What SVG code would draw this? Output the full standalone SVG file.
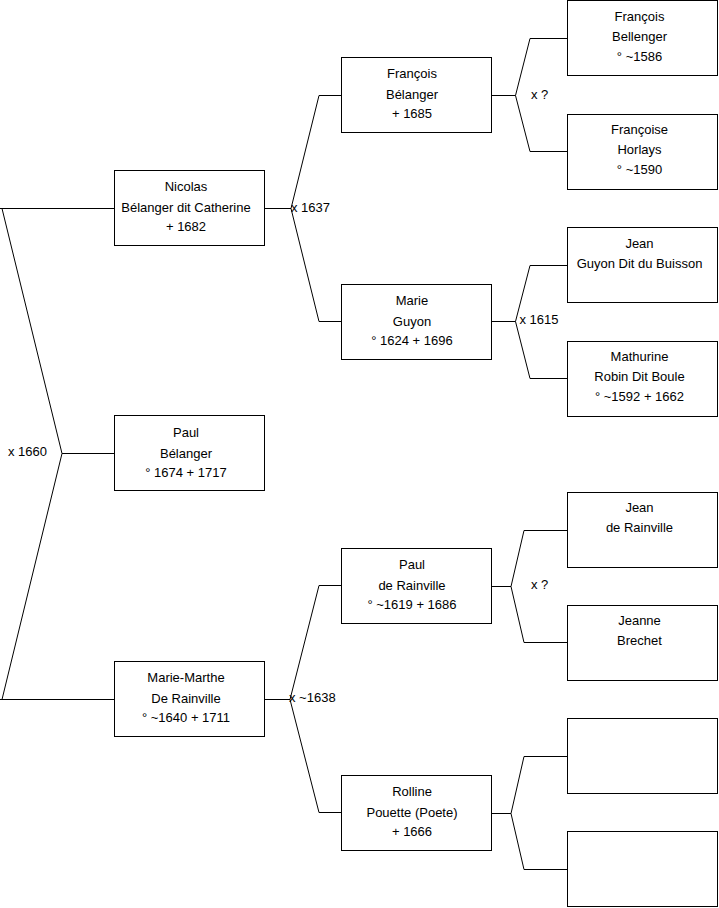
<svg xmlns="http://www.w3.org/2000/svg" width="719" height="908" viewBox="0 0 719 908">
<style>
.box{fill:#fff;stroke:#000;stroke-width:1}
.c{fill:none;stroke:#000;stroke-width:1}
text{font-family:"Liberation Sans",Arial,sans-serif;font-size:13px;fill:#000}
.m{text-anchor:middle}
</style>
<rect width="719" height="908" fill="#fff"/>
<g id="connectors">
<polyline class="c" points="114,208.5 0,208.5"/>
<polyline class="c" points="2,208.5 62,453.5 2,699.5"/>
<polyline class="c" points="62,453.5 114,453.5"/>
<polyline class="c" points="0,699.5 114,699.5"/>
<polyline class="c" points="265,208.5 291,208.5"/>
<polyline class="c" points="341,95.5 319,95.5 291,208.5 319,321.5 341,321.5"/>
<polyline class="c" points="265,699.5 290,699.5"/>
<polyline class="c" points="341,585.5 319,585.5 290,699.5 319,812.5 341,812.5"/>
<polyline class="c" points="492,95.5 515.5,95.5"/>
<polyline class="c" points="567,38.5 530,38.5 515.5,95.5 530,151.5 567,151.5"/>
<polyline class="c" points="492,321.5 515.5,321.5"/>
<polyline class="c" points="567,265.5 530,265.5 515.5,321.5 530,378.5 567,378.5"/>
<polyline class="c" points="492,586.5 511,586.5"/>
<polyline class="c" points="567,530.5 524,530.5 511,586.5 524,642.5 567,642.5"/>
<polyline class="c" points="492,813.5 511,813.5"/>
<polyline class="c" points="567,756.5 524,756.5 511,813.5 524,869.5 567,869.5"/>
<text x="8" y="456">x 1660</text>
<text x="291" y="212">x 1637</text>
<text x="289" y="702">x ~1638</text>
<text x="531" y="99">x ?</text>
<text x="519.5" y="324">x 1615</text>
<text x="531" y="589">x ?</text>
</g>
<g id="nicolas"><rect class="box" x="114.5" y="170.5" width="150" height="75"/>
<text class="m" x="186" y="191">Nicolas</text><text class="m" x="186" y="211.5">Bélanger dit Catherine</text><text class="m" x="186" y="231">+ 1682</text></g>
<g id="paul"><rect class="box" x="114.5" y="415.5" width="150" height="75"/>
<text class="m" x="186" y="437">Paul</text><text class="m" x="186" y="457.5">Bélanger</text><text class="m" x="186" y="477">° 1674 + 1717</text></g>
<g id="mariemarthe"><rect class="box" x="114.5" y="661.5" width="150" height="75"/>
<text class="m" x="186" y="682">Marie-Marthe</text><text class="m" x="186" y="702.5">De Rainville</text><text class="m" x="186" y="722">° ~1640 + 1711</text></g>
<g id="francois"><rect class="box" x="341.5" y="57.5" width="150" height="75"/>
<text class="m" x="412" y="78">François</text><text class="m" x="412" y="98.5">Bélanger</text><text class="m" x="412" y="118">+ 1685</text></g>
<g id="marie"><rect class="box" x="341.5" y="284.5" width="150" height="75"/>
<text class="m" x="412" y="305">Marie</text><text class="m" x="412" y="325.5">Guyon</text><text class="m" x="412" y="345">° 1624 + 1696</text></g>
<g id="pauldr"><rect class="box" x="341.5" y="548.5" width="150" height="75"/>
<text class="m" x="412" y="569">Paul</text><text class="m" x="412" y="589.5">de Rainville</text><text class="m" x="412" y="609">° ~1619 + 1686</text></g>
<g id="rolline"><rect class="box" x="341.5" y="775.5" width="150" height="75"/>
<text class="m" x="412" y="796">Rolline</text><text class="m" x="412" y="816.5">Pouette (Poete)</text><text class="m" x="412" y="836">+ 1666</text></g>
<g id="francoisb"><rect class="box" x="567.5" y="0.5" width="150" height="75"/>
<text class="m" x="639.5" y="21">François</text><text class="m" x="639.5" y="41">Bellenger</text><text class="m" x="639.5" y="61">° ~1586</text></g>
<g id="francoiseh"><rect class="box" x="567.5" y="114.5" width="150" height="75"/>
<text class="m" x="639.5" y="134">Françoise</text><text class="m" x="639.5" y="154">Horlays</text><text class="m" x="639.5" y="174">° ~1590</text></g>
<g id="jeang"><rect class="box" x="567.5" y="227.5" width="150" height="75"/>
<text class="m" x="639.5" y="248">Jean</text><text class="m" x="639.5" y="268">Guyon Dit du Buisson</text></g>
<g id="mathurine"><rect class="box" x="567.5" y="341.5" width="150" height="75"/>
<text class="m" x="639.5" y="361">Mathurine</text><text class="m" x="639.5" y="381">Robin Dit Boule</text><text class="m" x="639.5" y="401">° ~1592 + 1662</text></g>
<g id="jeanr"><rect class="box" x="567.5" y="492.5" width="150" height="75"/>
<text class="m" x="639.5" y="512">Jean</text><text class="m" x="639.5" y="532">de Rainville</text></g>
<g id="jeanne"><rect class="box" x="567.5" y="605.5" width="150" height="75"/>
<text class="m" x="639.5" y="625">Jeanne</text><text class="m" x="639.5" y="645">Brechet</text></g>
<g id="unknown1"><rect class="box" x="567.5" y="718.5" width="150" height="75"/></g>
<g id="unknown2"><rect class="box" x="567.5" y="831.5" width="150" height="75"/></g>
</svg>
